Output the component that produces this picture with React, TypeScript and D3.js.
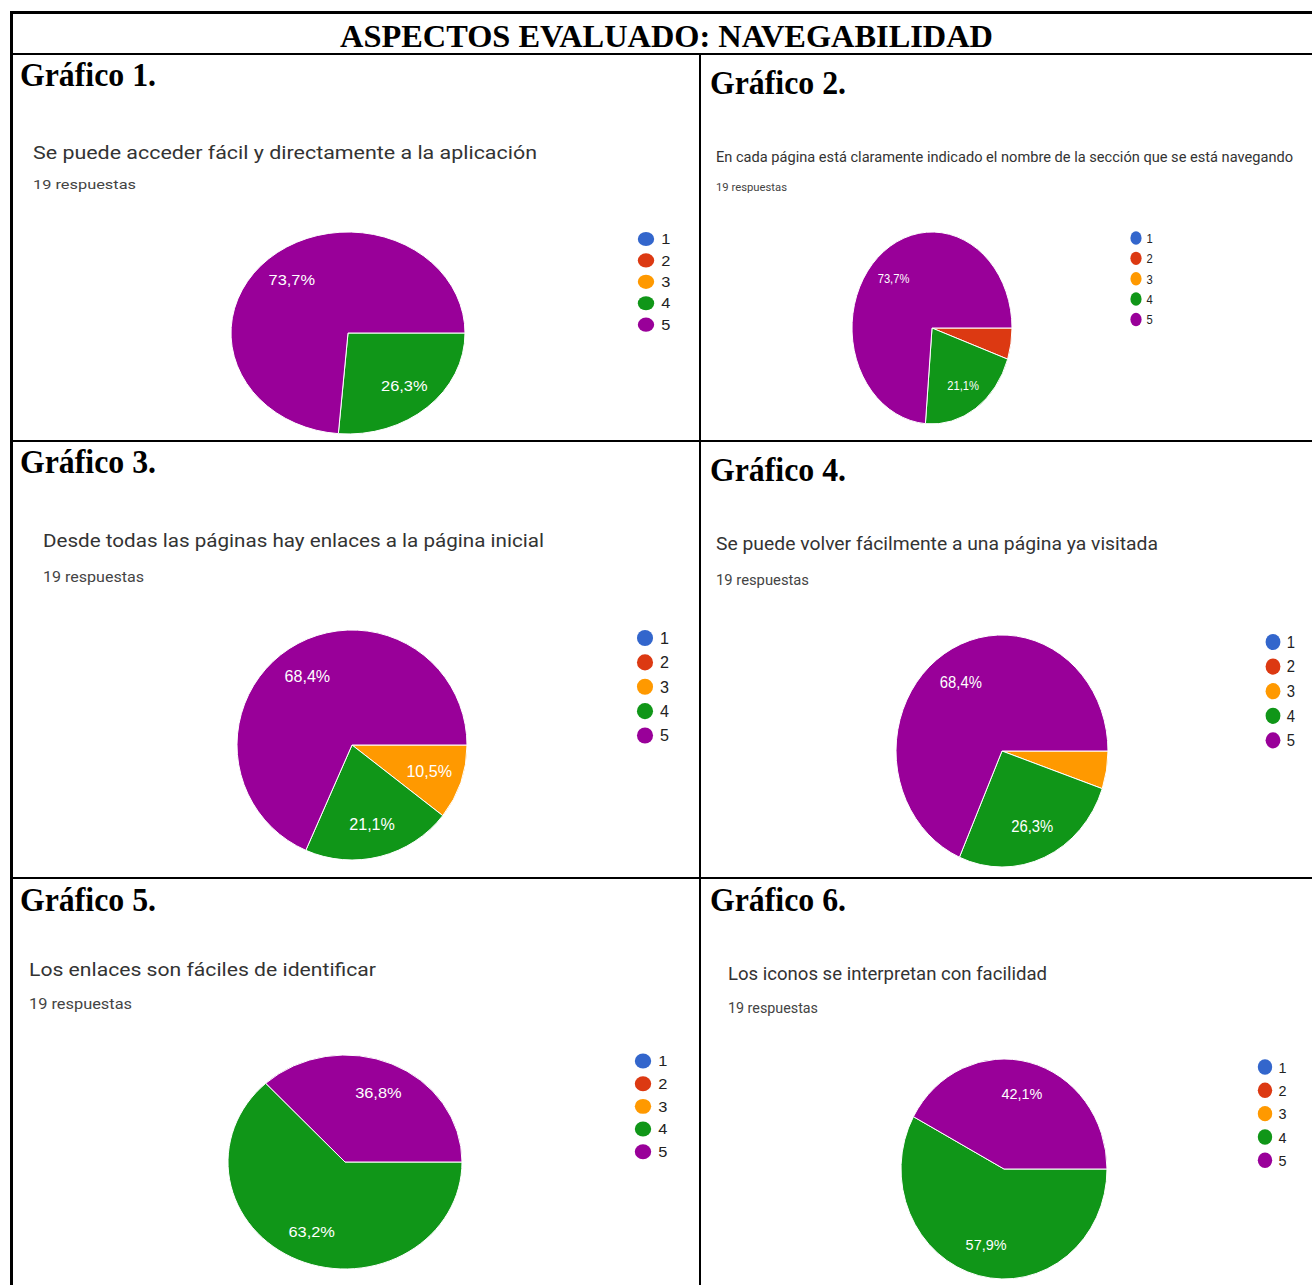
import React from "react";
import * as d3 from "d3";

// ---------- DATA ----------
const mainTitle = "ASPECTOS EVALUADO: NAVEGABILIDAD";
const chartTitles = ["Gráfico 1.", "Gráfico 2.", "Gráfico 3.", "Gráfico 4.", "Gráfico 5.", "Gráfico 6."];
const questions = [
  "Se puede acceder fácil y directamente a la aplicación",
  "En cada página está claramente indicado el nombre de la sección que se está navegando",
  "Desde todas las páginas hay enlaces a la página inicial",
  "Se puede volver fácilmente a una página ya visitada",
  "Los enlaces son fáciles de identificar",
  "Los iconos se interpretan con facilidad",
];
const responseCounts = [19, 19, 19, 19, 19, 19];
const categories = ["1", "2", "3", "4", "5"];
// counts per category 1..5
const counts1 = [0, 0, 0, 5, 14];
const counts2 = [0, 1, 0, 4, 14];
const counts3 = [0, 0, 2, 4, 13];
const counts4 = [0, 0, 1, 5, 13];
const counts5 = [0, 0, 0, 12, 7];
const counts6 = [0, 0, 0, 11, 8];
const allCounts = [counts1, counts2, counts3, counts4, counts5, counts6];

// ---------- STYLE / LAYOUT ----------
const colors = ["#3366cc", "#dc3912", "#ff9900", "#109618", "#990099"];
const W = 1312;
const H = 1285;

type Layout = {
  hx: number; hy: number;
  qx: number; qy: number; qLen: number; qFs: number;
  rx0: number; ry0: number; rLen: number; rFs: number;
  cx: number; cy: number; prx: number; pry: number;
  lx: number; ly: number;
};

const layouts: Layout[] = [
  { hx: 20, hy: 86, qx: 33, qy: 159, qLen: 504, qFs: 18, rx0: 33, ry0: 189, rLen: 103, rFs: 13.5, cx: 348, cy: 333, prx: 117, pry: 101, lx: 646, ly: 239 },
  { hx: 710, hy: 94, qx: 716, qy: 162, qLen: 577, qFs: 15, rx0: 716, ry0: 191, rLen: 71, rFs: 11.5, cx: 932, cy: 328, prx: 80, pry: 96, lx: 1136, ly: 238 },
  { hx: 20, hy: 473, qx: 43, qy: 547, qLen: 501, qFs: 19, rx0: 43, ry0: 582, rLen: 101, rFs: 14, cx: 352, cy: 745, prx: 115, pry: 115, lx: 645, ly: 638 },
  { hx: 710, hy: 481, qx: 716, qy: 550, qLen: 442, qFs: 19, rx0: 716, ry0: 585, rLen: 93, rFs: 14, cx: 1002, cy: 751, prx: 106, pry: 116, lx: 1273, ly: 642 },
  { hx: 20, hy: 911, qx: 29, qy: 976, qLen: 347, qFs: 18, rx0: 29, ry0: 1009, rLen: 103, rFs: 14, cx: 345, cy: 1162, prx: 117, pry: 107, lx: 643, ly: 1061 },
  { hx: 710, hy: 911, qx: 728, qy: 980, qLen: 319, qFs: 18, rx0: 728, ry0: 1013, rLen: 90, rFs: 14, cx: 1004, cy: 1169, prx: 103, pry: 110, lx: 1265, ly: 1067 },
];

const BASE_R = 100;
const LABEL_R = 71;
const LEGEND_STEP = 21.2;

const pieGen = d3
  .pie<number>()
  .sort(null)
  .value((d) => d)
  .startAngle(Math.PI / 2)
  .endAngle(Math.PI / 2 + 2 * Math.PI);
const arcGen = d3.arc<d3.PieArcDatum<number>>().innerRadius(0).outerRadius(BASE_R);
const labelArc = d3.arc<d3.PieArcDatum<number>>().innerRadius(LABEL_R).outerRadius(LABEL_R);

const fmtPct = (v: number, total: number) => (v / total * 100).toFixed(1).replace(".", ",") + "%";

function Panel({ idx }: { idx: number }) {
  const L = layouts[idx];
  const counts = allCounts[idx];
  const total = d3.sum(counts);
  const sx = L.prx / BASE_R;
  const sy = L.pry / BASE_R;
  const arcs = pieGen(counts);
  return (
    <g>
      <text x={L.hx} y={L.hy} fontFamily="'Liberation Serif', 'Times New Roman', serif" fontWeight="bold" fontSize={33} textLength={136} lengthAdjust="spacingAndGlyphs" fill="#000">
        {chartTitles[idx]}
      </text>
      <text x={L.qx} y={L.qy} fontFamily="Roboto, 'Open Sans', sans-serif" fontSize={L.qFs} textLength={L.qLen} lengthAdjust="spacingAndGlyphs" fill="#333">
        {questions[idx]}
      </text>
      <text x={L.rx0} y={L.ry0} fontFamily="Roboto, sans-serif" fontSize={L.rFs} textLength={L.rLen} lengthAdjust="spacingAndGlyphs" fill="#444">
        {`${responseCounts[idx]} respuestas`}
      </text>
      <g transform={`translate(${L.cx},${L.cy}) scale(${sx},${sy})`}>
        {arcs.map((a, i) =>
          a.value > 0 ? (
            <path key={i} d={arcGen(a) || ""} fill={colors[i]} stroke="#fff" strokeWidth={1} vectorEffect="non-scaling-stroke" />
          ) : null
        )}
        {arcs.map((a, i) => {
          if (a.value / total < 0.08) return null;
          const [x, y] = labelArc.centroid(a);
          return (
            <text key={"l" + i} x={x} y={y} dy="0.35em" textAnchor="middle" fontFamily="'Liberation Sans', Arial, sans-serif" fontSize={14} fill="#fff">
              {fmtPct(a.value, total)}
            </text>
          );
        })}
      </g>
      <g transform={`translate(${L.lx},${L.ly}) scale(${sx},${sy})`}>
        {categories.map((c, i) => (
          <g key={c} transform={`translate(0,${i * LEGEND_STEP})`}>
            <circle r={7} fill={colors[i]} />
            <text x={13} dy="0.36em" fontFamily="'Liberation Sans', Arial, sans-serif" fontSize={14} fill="#222">
              {c}
            </text>
          </g>
        ))}
      </g>
    </g>
  );
}

export default function App() {
  return (
    <svg width={W} height={H} style={{ position: "absolute", left: 0, top: 0, background: "#fff" }}>
      <rect width={W} height={H} fill="#fff" />
      {/* table lines */}
      <line x1={10} x2={W} y1={12.5} y2={12.5} stroke="#000" strokeWidth={3} />
      <line x1={11.5} x2={11.5} y1={11} y2={H} stroke="#000" strokeWidth={3} />
      <line x1={10} x2={W} y1={54} y2={54} stroke="#000" strokeWidth={2} />
      <line x1={700} x2={700} y1={54} y2={H} stroke="#000" strokeWidth={2} />
      <line x1={10} x2={W} y1={441} y2={441} stroke="#000" strokeWidth={2} />
      <line x1={10} x2={W} y1={878} y2={878} stroke="#000" strokeWidth={2} />
      <text x={340} y={47} fontFamily="'Liberation Serif', 'Times New Roman', serif" fontWeight="bold" fontSize={32} textLength={653} lengthAdjust="spacingAndGlyphs" fill="#000">
        {mainTitle}
      </text>
      {layouts.map((_, i) => (
        <Panel key={i} idx={i} />
      ))}
    </svg>
  );
}
